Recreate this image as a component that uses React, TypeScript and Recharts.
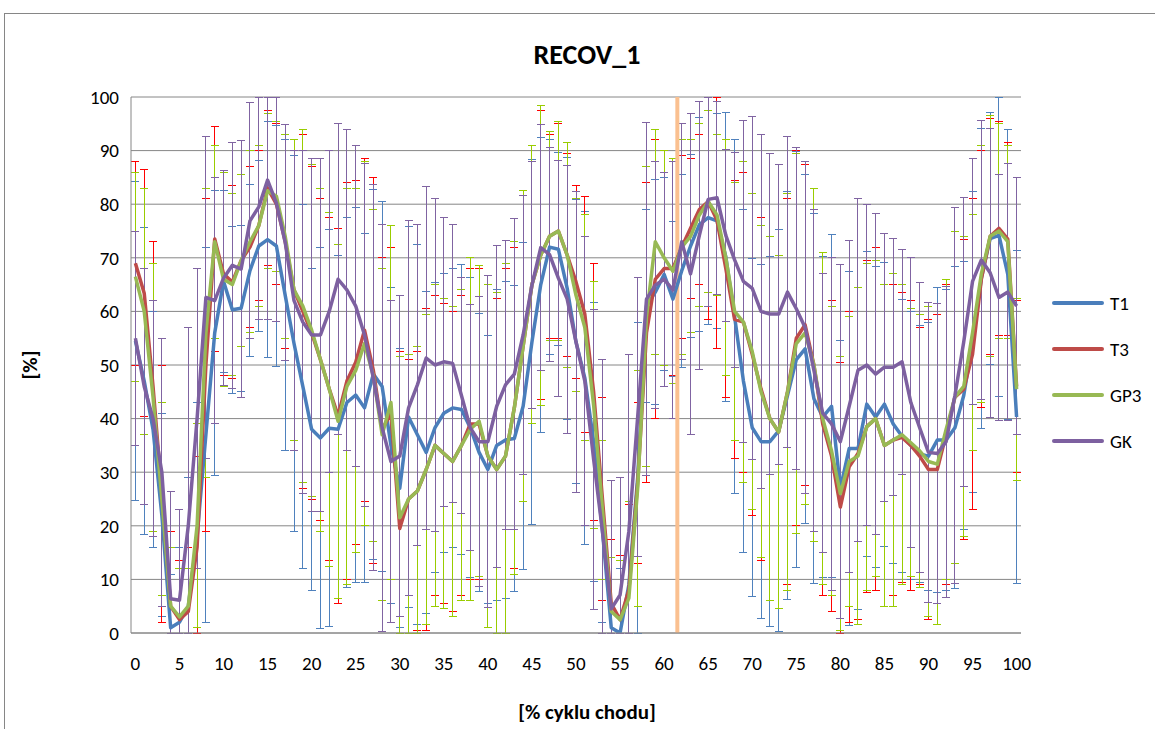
import { LineChart, Line, XAxis, YAxis, CartesianGrid, ErrorBar, ReferenceLine } from 'recharts'

const FONT = 'Calibri, Carlito, Lato, sans-serif'

// % of gait cycle, 0..100
const X = Array.from({ length: 101 }, (_, i) => i)
const X_TICKS = [0, 5, 10, 15, 20, 25, 30, 35, 40, 45, 50, 55, 60, 65, 70, 75, 80, 85, 90, 95, 100]
const Y_TICKS = [0, 10, 20, 30, 40, 50, 60, 70, 80, 90, 100]
const TOE_OFF = 61.5

const T1 = [
  54.5, 47, 38, 22, 1, 2, 5, 18, 37, 56,
  65.6, 60.3, 60.6, 67.6, 72.2, 73.4, 72.2, 63, 54, 46,
  38, 36.4, 38.2, 38, 43, 44.4, 42, 48.3, 46, 35,
  27, 40.3, 37, 33.7, 38.3, 41, 42, 41.7, 38.3, 33.7,
  30.5, 35, 36, 36.3, 42.3, 54.3, 65, 72, 71.6, 64.3,
  54.3, 47.6, 35.7, 19, 1, 0, 9, 29, 61, 63.6,
  66.9, 62.3, 67.6, 72.2, 76.2, 77.5, 76.9, 70.2, 59, 47,
  38.3, 35.7, 35.7, 37.7, 44.3, 51, 53, 43.7, 40.3, 42.3,
  27, 34.4, 34.4, 42.7, 40.3, 42.7, 39, 36.7, 35, 33.4,
  33, 36, 36, 38.3, 44.3, 54.3, 66.2, 73.6, 74.2, 66.9,
  40.3,
]
const T1_SD = [
  29.7, 28.7, 22, 19, 10, 14, 24, 25, 35, 26.6,
  17, 15.6, 15.5, 16, 16, 22, 22.5, 29, 35, 34,
  30, 35.5, 37, 32.5, 34.5, 35, 32.5, 34.5, 34.5, 29.5,
  26, 35.5, 35.5, 30, 27, 26, 26, 27, 28, 26,
  25, 29, 29.5, 28.5, 30.5, 34, 27.5, 20, 18, 24.5,
  26.5, 31, 26, 17, 13, 12, 15, 29, 18, 21,
  18, 14.5, 18, 17, 20, 20, 20, 27, 33, 32,
  31.5, 33, 34.5, 37.5, 38, 38.8, 32.5, 34.5, 30, 32,
  27.5, 33, 30, 28.5, 28, 26.5, 26, 25.5, 25, 24,
  25, 28.5, 28, 30, 25, 28, 28, 23.5, 30, 27,
  31,
]

const T3 = [
  69, 63.4, 46, 26, 5, 2.5, 4, 16, 50, 73.5,
  67, 65.5, 69.5, 72, 76, 83, 80, 73, 64, 60,
  56, 51, 45.5, 40.5, 47, 50.5, 56.5, 49, 38, 41,
  19.5, 25, 26.5, 30.5, 35, 33.5, 32, 35, 39, 39,
  33, 30.5, 33, 42, 53.5, 65, 70.5, 74, 75, 70.5,
  65.5, 59.5, 45, 25, 5.5, 2.5, 8, 28, 56, 66,
  68, 68, 72, 75.5, 79, 80.5, 77, 68, 58.5, 58,
  52, 45.5, 40, 37.5, 45, 55, 57.5, 50, 39, 33,
  23.5, 31, 33.5, 38.5, 40, 35, 36, 36.5, 35, 33,
  30.5, 30.5, 37, 44, 45.5, 52, 66, 74, 75.5, 73.5,
  46,
]
const T3_SD = [
  19, 23, 27, 24, 14, 11, 12, 17, 31, 21,
  19, 18, 16, 15, 14, 14.5, 15, 20, 28, 33,
  31, 30, 32, 35, 37, 34, 32, 36, 32, 31,
  33, 26, 26, 30, 28, 28, 28, 28, 29, 29,
  32, 32, 35, 30, 29, 26, 27, 19, 20, 19,
  18, 22, 24, 19, 12, 12, 16, 15, 28, 26,
  18, 20, 17, 13, 14, 22, 24, 24, 26, 28,
  30, 32, 34, 33, 36, 35, 30, 33, 32, 29,
  27, 29, 31, 31, 32, 30, 29, 27, 27, 24,
  28, 29, 28, 31, 28, 29, 24, 22, 20, 18,
  16,
]

const GP3 = [
  66.5, 60, 44, 25, 5, 3, 5, 20, 56, 73,
  66, 65, 69.5, 73, 76, 82.5, 81.5, 74, 64, 61,
  56.5, 51, 45.5, 39.5, 46, 49, 54, 48, 37, 43,
  21.5, 25, 26.5, 30.5, 35, 33.5, 32, 35, 38, 39.5,
  33, 30.5, 33, 42, 53.5, 65, 70.5, 74, 75, 70.5,
  63, 57, 42.5, 23, 4, 2.5, 6.5, 27, 59, 73,
  70, 67.5, 72, 74, 78, 80.5, 78, 70, 60, 58,
  52.5, 45, 40, 37.5, 45, 54, 56, 50, 40, 34,
  26, 32, 33, 38.5, 40, 35, 36, 37, 35.5, 34,
  32, 31.5, 38, 44, 46, 56, 67, 74, 75, 73,
  45.5,
]
const GP3_SD = [
  19.5, 23, 25, 18, 11, 9, 7, 19, 27, 18,
  20, 17, 16, 17, 15, 14.5, 14, 19, 28, 33,
  31, 32, 33, 33, 37, 34, 34, 31, 31, 33,
  30, 27, 27, 29, 30, 29, 29, 29, 32, 29,
  32, 33, 36, 31, 29, 26, 28, 19.5, 20.5, 21,
  18, 21, 23, 13, 10, 11, 18, 22, 28, 21,
  20, 21, 20, 18, 17, 17, 15, 22, 24, 30,
  29.5, 31, 34, 33, 37, 35.5, 32, 33, 31, 27,
  25.5, 27, 31.5, 30.5, 29.5, 30, 31, 28, 25, 25.5,
  29, 30, 28, 31, 28, 22, 24, 22.5, 20, 18,
  17,
]

const GK = [
  55, 46, 40, 30, 6.4, 6.1, 20, 40, 62.6, 62,
  66.2, 68.6, 67.9, 76.9, 79.5, 84.5, 80.2, 72.9, 62, 58,
  55.6, 55.6, 60, 66, 64, 61, 55.6, 47.6, 38.3, 32,
  33, 42, 46.3, 51.3, 50, 50.6, 50.3, 44.3, 38.3, 35.7,
  35.7, 42.3, 46.3, 48.3, 55.6, 64.9, 71.9, 70.6, 66.2, 62.3,
  54.3, 47, 32.4, 19, 4.5, 7.1, 19, 40.3, 62.3, 64.9,
  66, 64, 73, 67, 74.2, 80.9, 81.2, 74.2, 69.6, 65.6,
  64.3, 60, 59.5, 59.5, 63.6, 60.5, 57, 49, 41, 39,
  35.7, 42.3, 49, 50, 48.3, 49.6, 49.6, 50.6, 43, 38.3,
  33.7, 33.5, 35.7, 44.3, 54.3, 65.6, 69.6, 67.2, 62.6, 63.6,
  61,
]
const GK_SD = [
  20, 22, 22, 25, 20, 17, 37, 28, 30, 23,
  20, 23, 24, 22, 21, 26, 22, 22, 28, 32,
  33, 33, 30, 29, 30, 30, 32, 36, 38, 30,
  30, 35, 30, 32, 31, 27, 26, 22, 23, 27,
  31, 30, 27, 29, 26, 23, 23, 20, 22, 25,
  28, 27, 28, 32, 24, 22, 33, 26, 33, 23,
  20, 24, 22, 30, 25, 20, 18, 16, 20, 30,
  32, 33, 30, 28, 29, 30, 31, 30, 26, 31,
  33, 31, 32, 30, 30, 25, 24, 21, 27, 27,
  28, 28, 29, 35, 27, 23, 26, 27, 23, 24,
  24,
]

const SERIES = [
  { key: 't1', name: 'T1', values: T1, sd: T1_SD, color: '#4A7EBB', bar: '#4F81BD' },
  { key: 't3', name: 'T3', values: T3, sd: T3_SD, color: '#BE4B48', bar: '#FF0000' },
  { key: 'gp3', name: 'GP3', values: GP3, sd: GP3_SD, color: '#98B954', bar: '#99CC00' },
  { key: 'gk', name: 'GK', values: GK, sd: GK_SD, color: '#7D60A0', bar: '#8064A2' },
]

// Excel cuts the error bars at the axis bounds
const errRange = (m: number, s: number) => [m - Math.max(0, m - s), Math.min(100, m + s) - m]

const data = X.map((x, i) => {
  const row: Record<string, number | number[]> = { x }
  SERIES.forEach((s) => {
    row[s.key] = s.values[i]
    row[s.key + 'Err'] = errRange(s.values[i], s.sd[i])
  })
  return row
})

const tickStyle = { fill: '#000', fontSize: 19, fontFamily: FONT }

export default function App() {
  return (
    <div style={{ position: 'absolute', left: 0, top: 0, width: 1155, height: 729, background: '#fff', overflow: 'hidden', fontFamily: FONT }}>
      <div style={{ position: 'absolute', left: 4, top: 13, width: 1200, height: 800, border: '1px solid #868686' }} />
      <div style={{ position: 'absolute', left: 0, top: 40, width: 1174, textAlign: 'center', fontSize: 28, fontWeight: 700, lineHeight: '30px' }}>
        RECOV_1
      </div>
      <LineChart
        width={1155}
        height={729}
        data={data}
        margin={{ top: 97, right: 134, bottom: 56, left: 71 }}
        style={{ position: 'absolute', left: 0, top: 0 }}
      >
        <CartesianGrid vertical={false} stroke="#868686" />
        <XAxis
          dataKey="x"
          type="number"
          domain={[-0.5, 100.5]}
          ticks={X_TICKS}
          interval={0}
          height={40}
          tickLine={false}
          tickSize={0}
          tickMargin={24}
          axisLine={{ stroke: '#868686' }}
          tick={tickStyle}
        />
        <YAxis
          type="number"
          domain={[0, 100]}
          ticks={Y_TICKS}
          allowDataOverflow
          width={60}
          tickLine={false}
          tickSize={0}
          tickMargin={12}
          axisLine={{ stroke: '#868686' }}
          tick={tickStyle}
        />
        {SERIES.map((s) => (
          <Line
            key={s.key + '-bars'}
            dataKey={s.key}
            stroke="none"
            strokeWidth={0}
            dot={false}
            activeDot={false}
            legendType="none"
            isAnimationActive={false}
          >
            <ErrorBar
              dataKey={s.key + 'Err'}
              width={4}
              stroke={s.bar}
              strokeWidth={1}
              shapeRendering="crispEdges"
              direction="y"
              isAnimationActive={false}
            />
          </Line>
        ))}
        <ReferenceLine x={TOE_OFF} stroke="#FAC090" strokeWidth={4} />
        {SERIES.map((s) => (
          <Line
            key={s.key}
            type="linear"
            dataKey={s.key}
            name={s.name}
            stroke={s.color}
            strokeWidth={3.5}
            strokeLinejoin="round"
            dot={false}
            activeDot={false}
            isAnimationActive={false}
          />
        ))}
      </LineChart>
      <div style={{ position: 'absolute', left: 1052, top: 280 }}>
        {SERIES.map((s) => (
          <div key={s.key} style={{ display: 'flex', alignItems: 'center', height: 46 }}>
            <div style={{ width: 52, height: 4, background: s.color, borderRadius: 2, marginRight: 6 }} />
            <span style={{ fontSize: 19, color: '#000' }}>{s.name}</span>
          </div>
        ))}
      </div>
      <div style={{ position: 'absolute', left: 0, top: 700, width: 1174, textAlign: 'center', fontSize: 21, fontWeight: 700, lineHeight: '24px' }}>
        [% cyklu chodu]
      </div>
      <div
        style={{
          position: 'absolute',
          left: 30,
          top: 365,
          transform: 'translate(-50%, -50%) rotate(-90deg)',
          fontSize: 21,
          fontWeight: 700,
          whiteSpace: 'nowrap',
        }}
      >
        [%]
      </div>
    </div>
  )
}
